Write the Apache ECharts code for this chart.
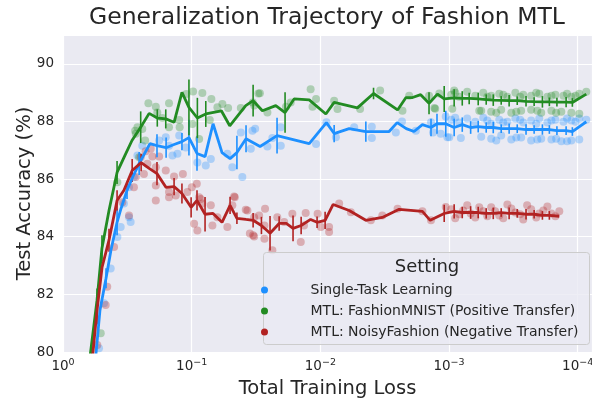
<!DOCTYPE html>
<html lang="en">
<head>
<meta charset="UTF-8">
<title>Generalization Trajectory of Fashion MTL</title>
<script src="https://cdn.jsdelivr.net/npm/echarts@6/dist/echarts.min.js"></script>
<style>
  html, body { margin: 0; padding: 0; background: #fff; }
  #main { width: 592px; height: 400px; }
</style>
</head>
<body>
<div id="main"></div>
<script>
// series names (legend order)
var names = ['Single-Task Learning', 'MTL: FashionMNIST (Positive Transfer)', 'MTL: NoisyFashion (Negative Transfer)'];
var colors = ['#1E90FF', '#228B22', '#B22222'];

// x tick values (decades)
var xTicks = [1, 0.1, 0.01, 0.001, 0.0001];

// ---- Single-Task Learning: mean curve + error half-width (0 = no bar)
var stlLoss = [0.574, 0.516, 0.463, 0.424, 0.380, 0.354, 0.318, 0.286, 0.256, 0.211, 0.186, 0.158, 0.137, 0.119, 0.105, 0.0909, 0.0787, 0.0682, 0.0581, 0.0503, 0.0445, 0.0378, 0.0294, 0.0217, 0.0122, 0.00897, 0.00781, 0.00597, 0.00443, 0.00292, 0.00253, 0.00215, 0.00187, 0.00161, 0.00138, 0.00124, 0.00106, 0.000912, 0.000789, 0.000679, 0.000593, 0.000514, 0.000453, 0.000393, 0.000341, 0.000295, 0.000252, 0.000218, 0.000188, 0.000166, 0.000145, 0.000123, 0.000110, 0.0000857];
var stlMean = [79.2, 81.45, 82.56, 83.53, 84.50, 84.98, 85.61, 86.09, 86.54, 87.23, 87.16, 87.09, 87.20, 87.30, 87.44, 86.89, 86.78, 87.92, 86.92, 86.71, 86.92, 87.40, 87.13, 87.51, 87.23, 87.96, 87.58, 87.75, 87.65, 87.65, 87.96, 87.75, 87.65, 87.89, 87.79, 87.92, 87.92, 87.79, 87.89, 87.79, 87.82, 87.79, 87.79, 87.75, 87.75, 87.75, 87.72, 87.72, 87.72, 87.72, 87.68, 87.68, 87.65, 87.99];
var stlErr = [0, 0, 0.35, 0, 0.45, 0, 0.3, 0, 0.4, 0, 0.4, 0.35, 0, 0.3, 0.62, 0.6, 0, 0, 0, 0, 0.58, 0.47, 0, 0.62, 0, 0, 0.3, 0, 0.35, 0, 0, 0, 0, 0, 0.3, 0.35, 0.45, 0.3, 0.25, 0.22, 0.2, 0.18, 0.2, 0.15, 0.18, 0.15, 0.18, 0.15, 0.18, 0.15, 0.15, 0.15, 0.15, 0];
var stlPts = [
  [0.179, 87.34], [0.159, 87.45], [0.150, 87.16], [0.125, 87.51], [0.141, 86.82], [0.129, 86.88], [0.111, 87.10], [0.0903, 86.58],
  [0.0777, 86.47], [0.0710, 86.70], [0.0528, 86.88], [0.0483, 86.41], [0.0404, 86.07], [0.0415, 87.62], [0.0337, 87.68], [0.0347, 87.05],
  [0.264, 86.82], [0.242, 87.16], [0.281, 86.07], [0.307, 85.72], [0.336, 85.15], [0.356, 84.34], [0.378, 83.99], [0.426, 82.90],
  [0.480, 81.69], [0.307, 84.68], [0.298, 84.51], [0.525, 80.13],
  [0.0321, 87.75], [0.0258, 87.13], [0.0236, 87.43], [0.0203, 87.80], [0.0203, 87.16], [0.0108, 87.22], [0.00897, 87.97], [0.00757, 87.45],
  [0.00546, 87.80], [0.00398, 87.82], [0.00398, 87.43], [0.00259, 87.62], [0.00232, 88.00], [0.00181, 87.68], [0.00138, 87.97], [0.00133, 87.62],
  [0.00116, 87.57], [0.00103, 87.45], [0.00106, 88.17], [0.000996, 87.45], [0.000809, 87.43],
  [0.000961, 88.06], [0.000834, 87.96], [0.000722, 88.10], [0.000625, 87.99], [0.000542, 88.13], [0.000470, 87.92], [0.000407, 88.06], [0.000352, 87.99],
  [0.000305, 88.10], [0.000265, 87.96], [0.000230, 88.03], [0.000199, 88.10], [0.000172, 87.96], [0.000149, 88.06], [0.000129, 87.99], [0.000112, 88.03],
  [0.0000972, 88.10], [0.0000857, 88.06], [0.000895, 88.13], [0.000504, 88.03], [0.000379, 87.96], [0.00028, 88.06], [0.00021, 87.92], [0.00016, 88.03],
  [0.000121, 88.10], [0.000104, 87.99],
  [0.000562, 87.47], [0.000470, 87.40], [0.000393, 87.51], [0.000328, 87.37], [0.000275, 87.44], [0.000230, 87.34], [0.000192, 87.40], [0.000160, 87.37],
  [0.000134, 87.31], [0.000112, 87.34], [0.0000972, 87.37], [0.000429, 87.34], [0.0003, 87.44], [0.000206, 87.37], [0.000147, 87.40], [0.000121, 87.31]
];

// ---- MTL: FashionMNIST (positive transfer)
var posLoss = [0.628, 0.544, 0.498, 0.439, 0.380, 0.330, 0.291, 0.249, 0.214, 0.185, 0.159, 0.137, 0.119, 0.105, 0.0903, 0.0777, 0.0588, 0.0506, 0.0380, 0.0333, 0.0282, 0.0222, 0.0188, 0.0160, 0.0122, 0.00906, 0.00781, 0.00515, 0.00386, 0.00251, 0.00216, 0.00192, 0.00166, 0.00143, 0.00123, 0.00109, 0.000912, 0.000789, 0.000697, 0.000593, 0.000514, 0.000453, 0.000393, 0.000341, 0.000295, 0.000252, 0.000218, 0.000188, 0.000166, 0.000145, 0.000123, 0.000110, 0.0000857];
var posMean = [79.55, 81.80, 83.60, 84.91, 86.23, 86.82, 87.34, 87.80, 88.28, 88.12, 88.09, 87.97, 89.01, 88.49, 88.12, 88.26, 88.37, 87.85, 88.55, 88.72, 88.37, 88.55, 88.31, 88.78, 88.75, 88.26, 88.66, 88.47, 88.97, 88.40, 88.83, 88.83, 88.93, 88.63, 88.95, 88.78, 88.82, 88.80, 88.80, 88.78, 88.76, 88.74, 88.73, 88.72, 88.72, 88.70, 88.69, 88.68, 88.68, 88.67, 88.67, 88.66, 88.95];
var posErr = [0, 0.4, 0.45, 0, 0.4, 0, 0, 0.55, 0, 0.3, 0.33, 0, 0, 0.97, 0.7, 0.45, 0, 0, 0, 0.55, 0, 0, 0.7, 0, 0, 0, 0, 0, 0.2, 0, 0, 0, 0, 0.38, 0, 0.45, 0.3, 0.25, 0.2, 0.22, 0.18, 0.2, 0.15, 0.2, 0.15, 0.18, 0.15, 0.2, 0.15, 0.15, 0.18, 0.15, 0];
var posPts = [
  [0.217, 88.63], [0.190, 88.51], [0.185, 88.31], [0.150, 88.63], [0.169, 88.12], [0.150, 87.80], [0.125, 88.05], [0.124, 87.80],
  [0.110, 88.95], [0.0975, 89.04], [0.0826, 88.99], [0.0703, 88.78], [0.0631, 88.49], [0.0577, 88.61], [0.0521, 88.47], [0.264, 87.80],
  [0.272, 87.57], [0.230, 87.34], [0.256, 86.76], [0.0875, 87.39], [0.0988, 87.91], [0.0723, 88.05], [0.0415, 88.47], [0.0303, 88.97],
  [0.0327, 88.55], [0.275, 87.68], [0.242, 87.74], [0.378, 85.89], [0.509, 80.65],
  [0.0295, 88.98], [0.0335, 88.66], [0.0258, 88.31], [0.0185, 88.51], [0.0170, 88.66], [0.0119, 89.12], [0.0108, 88.78], [0.0115, 88.51],
  [0.00781, 88.72], [0.00736, 88.43], [0.00491, 88.43], [0.00343, 89.07], [0.00230, 88.37], [0.00204, 88.89], [0.00143, 88.89], [0.00130, 88.47],
  [0.00119, 88.97], [0.00128, 88.44], [0.000943, 88.44], [0.000912, 89.07], [0.000582, 88.37],
  [0.000961, 88.93], [0.000834, 88.86], [0.000722, 89.03], [0.000625, 88.89], [0.000542, 89.00], [0.000470, 88.89], [0.000407, 88.96], [0.000352, 88.86],
  [0.000305, 89.00], [0.000265, 88.93], [0.000230, 88.89], [0.000199, 88.96], [0.000172, 88.86], [0.000149, 88.93], [0.000129, 88.89], [0.000112, 88.86],
  [0.0000972, 88.96], [0.0000857, 89.03], [0.000895, 89.00], [0.000504, 88.86], [0.000379, 88.93], [0.00028, 88.86], [0.00021, 89.00], [0.00016, 88.89],
  [0.000121, 88.96], [0.000104, 88.89],
  [0.000562, 88.37], [0.000470, 88.34], [0.000393, 88.41], [0.000328, 88.30], [0.000275, 88.37], [0.000230, 88.41], [0.000192, 88.30], [0.000160, 88.37],
  [0.000134, 88.34], [0.000112, 88.30], [0.0000972, 88.27], [0.000429, 88.30], [0.0003, 88.34], [0.000206, 88.37], [0.000147, 88.30]
];

// ---- MTL: NoisyFashion (negative transfer)
var negLoss = [0.595, 0.544, 0.497, 0.439, 0.380, 0.336, 0.290, 0.247, 0.214, 0.186, 0.158, 0.137, 0.119, 0.101, 0.0909, 0.0787, 0.0682, 0.0581, 0.0503, 0.0445, 0.0378, 0.0333, 0.0287, 0.0246, 0.0209, 0.0184, 0.0163, 0.0141, 0.0119, 0.0106, 0.00918, 0.00795, 0.00597, 0.00443, 0.00330, 0.00244, 0.00161, 0.00140, 0.00109, 0.000912, 0.000789, 0.000679, 0.000593, 0.000514, 0.000453, 0.000393, 0.000341, 0.000295, 0.000252, 0.000218, 0.000188, 0.000166, 0.000139];
var negMean = [79.65, 81.45, 82.94, 83.88, 85.26, 85.61, 86.30, 86.57, 86.37, 86.19, 85.71, 85.74, 85.50, 85.02, 85.26, 84.78, 84.81, 84.50, 85.09, 84.64, 84.60, 84.57, 84.39, 84.12, 84.46, 84.46, 84.29, 84.39, 84.60, 84.50, 84.57, 85.12, 84.91, 84.57, 84.67, 84.95, 84.88, 84.57, 84.81, 84.88, 84.84, 84.84, 84.84, 84.81, 84.81, 84.84, 84.81, 84.81, 84.78, 84.78, 84.74, 84.74, 84.71];
var negErr = [0, 0.5, 0, 0.4, 0.35, 0, 0.4, 0.3, 0, 0.4, 0, 0.3, 0.35, 0.35, 0.35, 0.6, 0, 0, 0.3, 0.2, 0, 0.25, 0.3, 0.6, 0.25, 0, 0.45, 0.3, 0, 0.2, 0.3, 0, 0, 0, 0, 0, 0, 0, 0.3, 0.25, 0.2, 0.22, 0.2, 0.18, 0.2, 0.15, 0.2, 0.15, 0.18, 0.15, 0.15, 0.15, 0];
var negPts = [
  [0.249, 86.76], [0.228, 86.97], [0.208, 87.05], [0.202, 86.78], [0.179, 86.78], [0.221, 86.53], [0.235, 86.18], [0.190, 86.41],
  [0.190, 85.78], [0.159, 86.30], [0.137, 86.09], [0.117, 86.18], [0.150, 85.55], [0.133, 85.43], [0.108, 85.55], [0.0998, 85.72],
  [0.0912, 85.84], [0.0875, 85.37], [0.0826, 85.15], [0.0710, 85.09], [0.0462, 85.37], [0.0483, 85.09], [0.0369, 84.91], [0.272, 86.07],
  [0.281, 85.72], [0.190, 85.26], [0.150, 85.37], [0.0957, 84.45], [0.0903, 84.22], [0.0690, 84.39], [0.0528, 84.34], [0.0468, 85.40],
  [0.0353, 84.11], [0.0327, 84.01], [0.038, 84.94], [0.0631, 84.68], [0.0850, 85.31], [0.401, 83.64], [0.453, 82.26], [0.466, 81.63],
  [0.541, 80.24], [0.307, 84.74], [0.346, 85.20],
  [0.0327, 84.68], [0.0333, 84.05], [0.0269, 84.97], [0.0272, 84.39], [0.0272, 83.93], [0.0299, 84.74], [0.0236, 83.53], [0.0216, 84.68],
  [0.0191, 84.51], [0.0165, 84.80], [0.0142, 83.82], [0.0130, 84.82], [0.0134, 84.39], [0.0105, 84.80], [0.00991, 84.34], [0.00855, 84.34],
  [0.00855, 84.16], [0.00714, 85.15], [0.00579, 84.85], [0.00405, 84.57], [0.0033, 84.74], [0.00251, 84.97], [0.00161, 84.88], [0.00138, 84.57],
  [0.00106, 85.03],
  [0.000961, 84.95], [0.000834, 84.78], [0.000722, 85.09], [0.000625, 84.67], [0.000542, 84.88], [0.000470, 85.02], [0.000407, 84.74], [0.000352, 85.12],
  [0.000305, 84.84], [0.000265, 84.60], [0.000230, 84.95], [0.000199, 84.81], [0.000172, 85.05], [0.000149, 84.71], [0.000139, 84.88], [0.000895, 84.64],
  [0.000776, 84.91], [0.000679, 84.81], [0.000582, 85.02], [0.000504, 84.71], [0.000438, 84.88], [0.000379, 84.64], [0.000328, 84.98], [0.00028, 84.78],
  [0.000247, 85.09], [0.00021, 84.67], [0.000185, 84.91], [0.00016, 84.81]
];

var FONT = 'DejaVu Sans';
var TXT = '#262626';

function zip(a, b) {
  return a.map(function (v, i) { return [v, b[i]]; });
}
function errData(loss, mean, err) {
  var out = [];
  loss.forEach(function (x, i) {
    if (err[i] > 0) out.push([x, mean[i] - err[i], mean[i] + err[i]]);
  });
  return out;
}
function errSeries(data, color) {
  return {
    type: 'custom',
    data: data,
    encode: { x: 0, y: [1, 2] },
    clip: true,
    z: 4,
    renderItem: function (params, api) {
      var p1 = api.coord([api.value(0), api.value(1)]);
      var p2 = api.coord([api.value(0), api.value(2)]);
      return {
        type: 'line',
        shape: { x1: p1[0], y1: p1[1], x2: p2[0], y2: p2[1] },
        style: { stroke: color, lineWidth: 1.6 }
      };
    }
  };
}
function scatterSeries(name, pts, color) {
  return {
    name: name,
    type: 'scatter',
    data: pts,
    symbolSize: 8,
    z: 2,
    itemStyle: { color: color, opacity: 0.3 }
  };
}
function lineSeries(data, color) {
  return {
    type: 'line',
    data: data,
    showSymbol: false,
    clip: true,
    z: 5,
    lineStyle: { color: color, width: 2.8 },
    itemStyle: { color: color }
  };
}

var chart = echarts.init(document.getElementById('main'));

var option = {
  animation: false,
  backgroundColor: '#ffffff',
  textStyle: { fontFamily: FONT },
  title: {
    text: 'Generalization Trajectory of Fashion MTL',
    left: 327,
    textAlign: 'center',
    top: 6,
    padding: 0,
    textStyle: { fontFamily: FONT, fontSize: 23.5, fontWeight: 'normal', color: TXT }
  },
  grid: {
    left: 63, right: 0, top: 35, bottom: 48,
    show: true, backgroundColor: '#EAEAF2', borderWidth: 0,
    outerBoundsMode: 'none'
  },
  xAxis: {
    type: 'log',
    logBase: 10,
    min: 0.0000774,
    max: 1,
    inverse: true,
    name: 'Total Training Loss',
    nameLocation: 'middle',
    nameGap: 27,
    nameMoveOverlap: false,
    nameTextStyle: { fontFamily: FONT, fontSize: 19.5, color: TXT },
    axisLine: { show: false },
    axisTick: { show: false },
    minorTick: { show: false },
    splitLine: { show: true, lineStyle: { color: '#ffffff', width: 1.2 } },
    axisLabel: {
      interval: 0,
      margin: 6,
      color: TXT,
      formatter: function (v) {
        for (var i = 0; i < xTicks.length; i++) {
          if (Math.abs(Math.log10(v) - Math.log10(xTicks[i])) < 1e-6) {
            var e = Math.round(Math.log10(xTicks[i]));
            return '{b|10}{s|' + (e === 0 ? '0' : '\u2212' + (-e)) + '}';
          }
        }
        return '';
      },
      rich: {
        b: { fontFamily: FONT, fontSize: 13.5, color: TXT },
        s: { fontFamily: FONT, fontSize: 9.5, color: TXT, padding: [0, 0, 7, 0] }
      }
    }
  },
  yAxis: {
    type: 'value',
    min: 80,
    max: 91,
    interval: 2,
    name: 'Test Accuracy (%)',
    nameLocation: 'middle',
    nameGap: 28,
    nameMoveOverlap: false,
    nameTextStyle: { fontFamily: FONT, fontSize: 19.5, color: TXT },
    axisLine: { show: false },
    axisTick: { show: false },
    splitLine: { show: true, lineStyle: { color: '#ffffff', width: 1.2 } },
    axisLabel: {
      interval: 0,
      margin: 9,
      color: TXT,
      fontFamily: FONT,
      fontSize: 13.5,
      formatter: function (v) { return v % 2 === 0 ? String(v) : ''; }
    }
  },
  legend: {
    orient: 'vertical',
    left: 261,
    top: 282,
    padding: 0,
    itemWidth: 44,
    itemHeight: 7,
    itemGap: 5,
    icon: 'circle',
    z: 20,
    textStyle: { fontFamily: FONT, fontSize: 14, color: TXT, lineHeight: 16, padding: [0, 0, 0, 19] },
    data: names.map(function (n, i) {
      return { name: n, itemStyle: { color: colors[i], opacity: 1 } };
    })
  },
  graphic: [
    {
      type: 'rect',
      z: 15,
      shape: { x: 263.5, y: 252.5, width: 326, height: 92, r: 3 },
      style: { fill: 'rgba(234,234,242,0.8)', stroke: '#cccccc', lineWidth: 1 }
    },
    {
      type: 'text',
      z: 20,
      x: 427,
      y: 267,
      style: {
        text: 'Setting', fontFamily: FONT, fontSize: 18, fill: TXT,
        align: 'center', verticalAlign: 'middle',
        textAlign: 'center', textVerticalAlign: 'middle'
      }
    }
  ],
  series: [
    scatterSeries(names[0], stlPts, colors[0]),
    scatterSeries(names[1], posPts, colors[1]),
    scatterSeries(names[2], negPts, colors[2]),
    lineSeries(zip(stlLoss, stlMean), colors[0]),
    lineSeries(zip(posLoss, posMean), colors[1]),
    lineSeries(zip(negLoss, negMean), colors[2]),
    errSeries(errData(stlLoss, stlMean, stlErr), colors[0]),
    errSeries(errData(posLoss, posMean, posErr), colors[1]),
    errSeries(errData(negLoss, negMean, negErr), colors[2])
  ]
};

chart.setOption(option);
</script>
</body>
</html>
